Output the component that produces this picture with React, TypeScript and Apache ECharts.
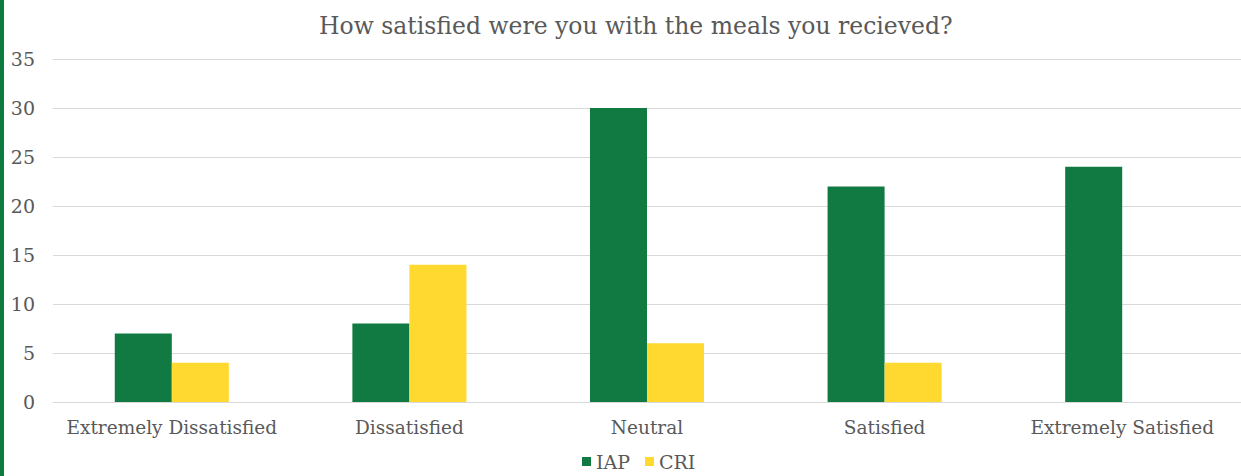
import React, { useEffect, useRef } from "react";
import * as echarts from "echarts";

const categories = ["Extremely Dissatisfied", "Dissatisfied", "Neutral", "Satisfied", "Extremely Satisfied"];
const iapValues = [7, 8, 30, 22, 24];
const criValues = [4, 14, 6, 4, 0];
const seriesNames = ["IAP", "CRI"];
const title = "How satisfied were you with the meals you recieved?";

const FONT = "'DejaVu Serif', Georgia, serif";
const TEXT = "#595959";

export default function App() {
  const ref = useRef<HTMLDivElement>(null);
  useEffect(() => {
    if (!ref.current) return;
    const chart = echarts.init(ref.current, null, { renderer: "svg" });
    chart.setOption({
      animation: false,
      backgroundColor: "#ffffff",
      title: {
        text: title,
        left: 314,
        top: 9,
        textStyle: { fontFamily: FONT, fontSize: 23.5, fontWeight: "normal", color: TEXT },
      },
      legend: {
        data: seriesNames,
        bottom: 0,
        left: 577,
        itemWidth: 9,
        itemHeight: 9,
        itemGap: 15,
        icon: "rect",
        textStyle: { fontFamily: FONT, fontSize: 19, color: TEXT },
      },
      grid: { left: 53, right: 0, top: 59, bottom: 74, containLabel: false },
      xAxis: {
        type: "category",
        data: categories,
        axisLine: { lineStyle: { color: "#d9d9d9" } },
        axisTick: { show: false },
        axisLabel: { fontFamily: FONT, fontSize: 18.5, color: TEXT, margin: 16, interval: 0, hideOverlap: false },
      },
      yAxis: {
        type: "value",
        min: 0,
        max: 35,
        interval: 5,
        axisLine: { show: false },
        axisTick: { show: false },
        splitLine: { lineStyle: { color: "#d9d9d9" } },
        axisLabel: { fontFamily: FONT, fontSize: 19, color: TEXT, margin: 18 },
      },
      graphic: [
        { type: "rect", left: 0, top: 0, shape: { width: 4, height: 476 }, style: { fill: "#0E7C3E" } },
      ],
      series: [
        {
          name: seriesNames[0],
          type: "bar",
          data: iapValues,
          barGap: "0%",
          barCategoryGap: "52%",
          itemStyle: { color: "#117A43" },
        },
        {
          name: seriesNames[1],
          type: "bar",
          data: criValues,
          barGap: "0%",
          barCategoryGap: "52%",
          itemStyle: { color: "#FFD92F" },
        },
      ],
    });
    return () => chart.dispose();
  }, []);
  return <div ref={ref} style={{ position: "fixed", left: 0, top: 0, width: 1241, height: 476 }} />;
}
